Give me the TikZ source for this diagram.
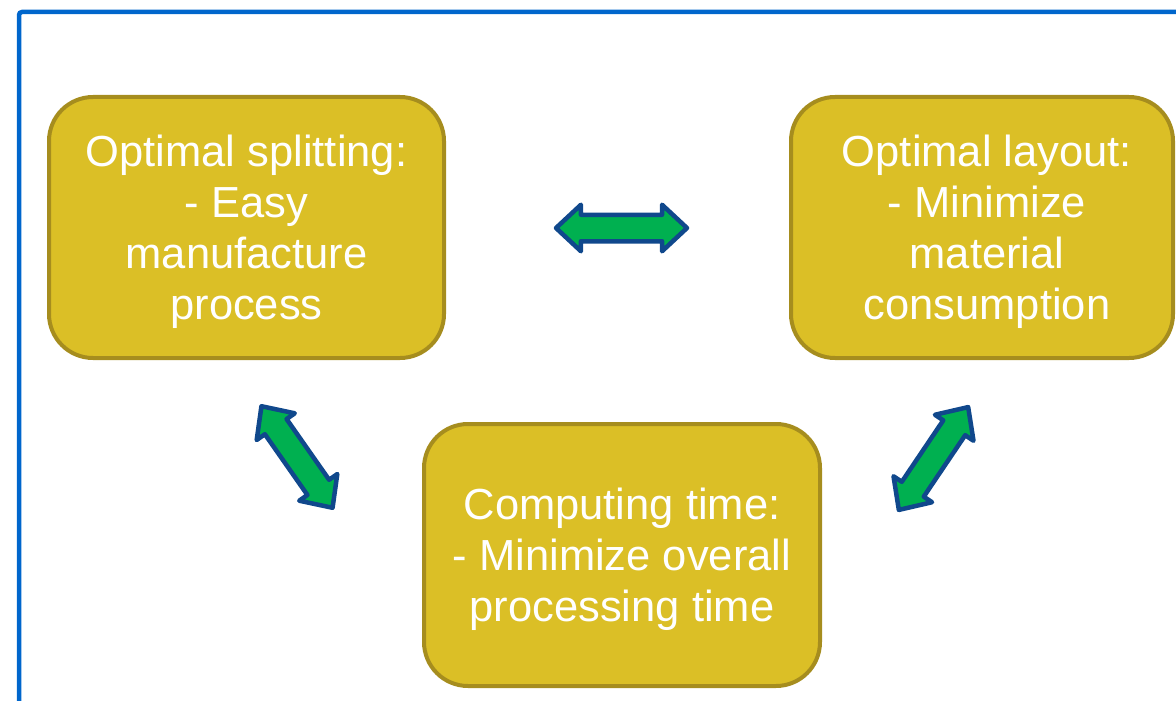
\documentclass[tikz,border=0pt]{standalone}
\usepackage{fontspec}
\setmainfont{Liberation Sans}
\usetikzlibrary{shapes.arrows}
\definecolor{boxfill}{RGB}{219,191,38}
\definecolor{boxline}{RGB}{166,141,30}
\definecolor{framblue}{RGB}{0,102,204}
\definecolor{arrgreen}{RGB}{0,176,80}
\definecolor{arrblue}{RGB}{16,72,140}
\begin{document}
\begin{tikzpicture}[x=1pt,y=-1pt,
    goal/.style={draw=boxline,fill=boxfill,line width=4pt,rounded corners=44pt,
      text=white,align=center,inner sep=0pt,text depth=0pt,
      font=\fontsize{43.5}{51}\selectfont},
    link/.style={double arrow,draw=arrblue,fill=arrgreen,line width=4.5pt,line join=round,
      double arrow head extend=10pt,double arrow tip angle=86,inner xsep=0pt,inner ysep=11pt,
      minimum width=42pt,minimum height=124pt}]
    \useasboundingbox (0,0) rectangle (1176,701);
    \draw[framblue,line width=4.5pt,rounded corners=3pt] (19,12) rectangle (1210,730);

    \node[goal,minimum width=395pt,minimum height=261pt] (split) at (246.5,227.5)
      {Optimal splitting:\\- Easy\\manufacture\\process};
    \node[goal,minimum width=382pt,minimum height=261pt] (layout) at (982,227.5)
      {\hspace*{10pt}Optimal layout:\\\hspace*{10pt}- Minimize\\\hspace*{10pt}material\\\hspace*{10pt}consumption};
    \node[goal,minimum width=396pt,minimum height=262pt] (time) at (622,555)
      {Computing time:\\- Minimize overall\\processing time};

    \node[link,minimum height=131pt] (sl) at (621.5,228) {};
    \node[link,rotate=-55] (st) at (297,457) {};
    \node[link,rotate=56] (lt) at (933.5,458.5) {};
  \end{tikzpicture}
\end{document}
